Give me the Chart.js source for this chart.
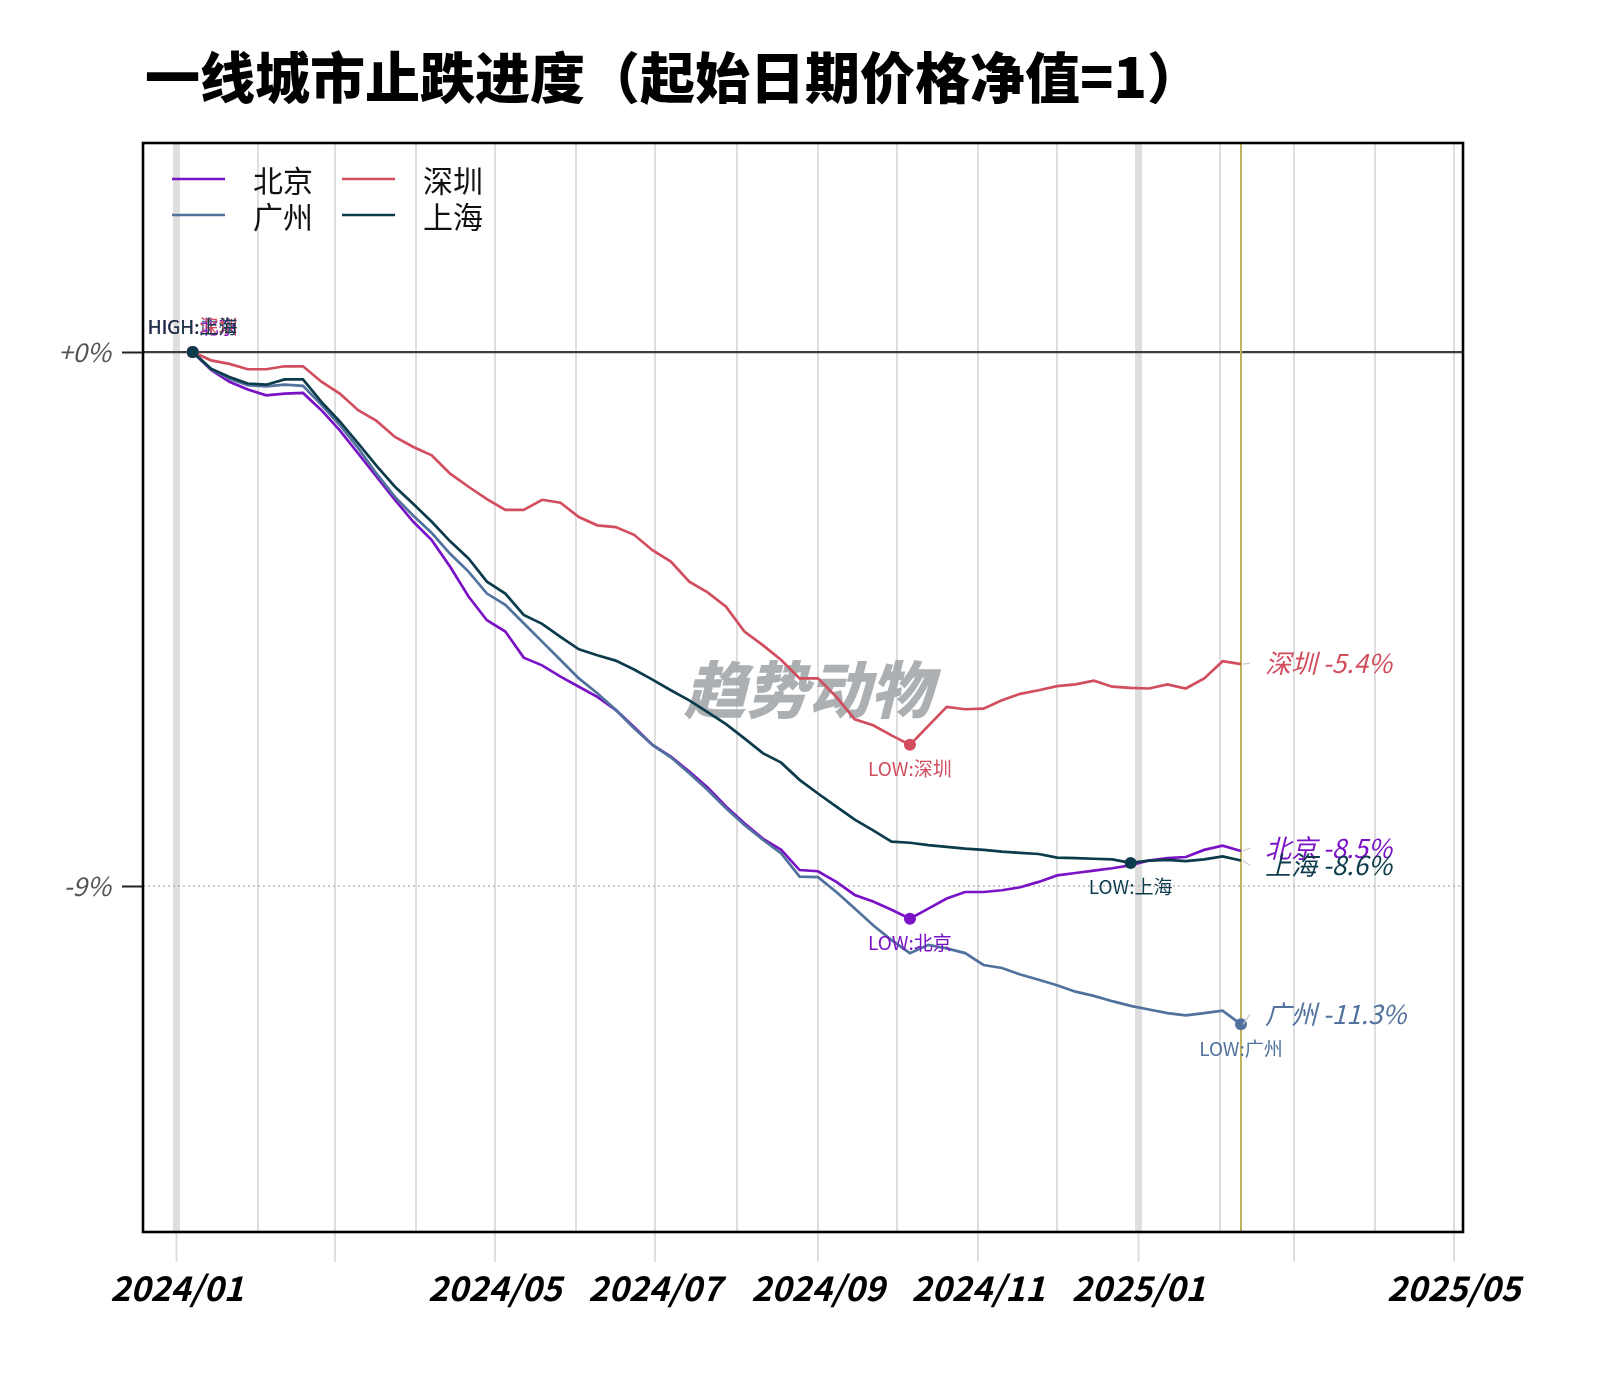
<!DOCTYPE html>
<html><head><meta charset="utf-8">
<script src="https://cdn.jsdelivr.net/npm/chart.js@4.4.1/dist/chart.umd.min.js"></script>
<style>
html,body{margin:0;padding:0;background:#fff;}
canvas{display:block;}
</style></head>
<body>
<canvas id="c" width="1607" height="1377"></canvas>
<script>
// ---------- data ----------
const dates = ['2024-01-07','2024-01-14','2024-01-21','2024-01-28','2024-02-04','2024-02-11','2024-02-18','2024-02-25',
 '2024-03-03','2024-03-10','2024-03-17','2024-03-24','2024-03-31','2024-04-07','2024-04-14','2024-04-21','2024-04-28',
 '2024-05-05','2024-05-12','2024-05-19','2024-05-26','2024-06-02','2024-06-09','2024-06-16','2024-06-23','2024-06-30',
 '2024-07-07','2024-07-14','2024-07-21','2024-07-28','2024-08-04','2024-08-11','2024-08-18','2024-08-25',
 '2024-09-01','2024-09-08','2024-09-15','2024-09-22','2024-09-29','2024-10-06','2024-10-13','2024-10-20','2024-10-27',
 '2024-11-03','2024-11-10','2024-11-17','2024-11-24','2024-12-01','2024-12-08','2024-12-15','2024-12-22','2024-12-29',
 '2025-01-05','2025-01-12','2025-01-19','2025-01-26','2025-02-02','2025-02-09'];
const cities = ['北京','广州','深圳','上海'];
const beijing = [0,-0.30,-0.50,-0.63,-0.73,-0.70,-0.69,-0.98,-1.32,-1.71,
 -2.10,-2.49,-2.86,-3.17,-3.62,-4.12,-4.52,-4.71,-5.15,-5.28,
 -5.47,-5.64,-5.81,-6.03,-6.32,-6.62,-6.82,-7.07,-7.34,-7.66,
 -7.94,-8.20,-8.39,-8.73,-8.75,-8.93,-9.15,-9.26,-9.40,-9.55,
 -9.38,-9.21,-9.10,-9.10,-9.07,-9.02,-8.93,-8.82,-8.78,-8.74,
 -8.70,-8.65,-8.57,-8.53,-8.51,-8.39,-8.32,-8.41];
const guangzhou = [0,-0.29,-0.45,-0.56,-0.58,-0.55,-0.57,-0.89,-1.23,-1.62,
 -2.05,-2.44,-2.76,-3.05,-3.40,-3.70,-4.07,-4.26,-4.57,-4.88,
 -5.19,-5.50,-5.75,-6.03,-6.34,-6.62,-6.83,-7.10,-7.38,-7.69,
 -7.97,-8.22,-8.45,-8.84,-8.85,-9.10,-9.38,-9.66,-9.91,-10.13,
 -9.99,-10.05,-10.13,-10.33,-10.38,-10.49,-10.58,-10.67,-10.78,-10.85,
 -10.94,-11.02,-11.08,-11.14,-11.18,-11.14,-11.10,-11.33];
const shenzhen = [0,-0.14,-0.20,-0.29,-0.29,-0.24,-0.24,-0.50,-0.70,-0.98,
 -1.16,-1.43,-1.60,-1.74,-2.05,-2.27,-2.48,-2.66,-2.66,-2.49,
 -2.54,-2.78,-2.92,-2.95,-3.08,-3.34,-3.53,-3.87,-4.05,-4.29,
 -4.71,-4.94,-5.19,-5.50,-5.50,-5.81,-6.19,-6.29,-6.46,-6.62,
 -6.30,-5.98,-6.02,-6.01,-5.87,-5.76,-5.70,-5.63,-5.60,-5.54,
 -5.64,-5.66,-5.67,-5.60,-5.67,-5.50,-5.21,-5.26];
const shanghai = [0,-0.28,-0.42,-0.53,-0.55,-0.46,-0.46,-0.84,-1.17,-1.54,
 -1.92,-2.27,-2.56,-2.86,-3.19,-3.48,-3.87,-4.07,-4.43,-4.58,
 -4.80,-5.01,-5.11,-5.20,-5.35,-5.52,-5.70,-5.87,-6.07,-6.27,
 -6.51,-6.76,-6.92,-7.21,-7.44,-7.66,-7.88,-8.06,-8.25,-8.27,
 -8.31,-8.34,-8.37,-8.39,-8.42,-8.44,-8.46,-8.52,-8.53,-8.54,
 -8.55,-8.61,-8.57,-8.56,-8.58,-8.55,-8.50,-8.57];
const endValueLabels = ['-8.5%','-11.3%','-5.4%','-8.6%'];
const xTickLabels = ['2024/01','2024/05','2024/07','2024/09','2024/11','2025/01','2025/05'];
const yTickValues = [0,-9];
const yTickLabels = ['+0%','-9%'];
const titleText = '一线城市止跌进度（起始日期价格净值=1）';
const watermarkText = '趋势动物';

// ---------- styles ----------
const seriesColors = ['#7A12C6','#52729E','#D24E5E','#0C3B4C'];
const endLabelOffsets = [-3,-10,-1,5];   // px, label repel
const CJK = '"Noto Sans CJK SC","Noto Sans",sans-serif';

const DAY0 = Date.UTC(2024,0,1);
function dayOf(s){const p=s.split('-').map(Number);return (Date.UTC(p[0],p[1]-1,p[2]||1)-DAY0)/864e5;}
function fmtDay(v){const d=new Date(DAY0+v*864e5);return d.getUTCFullYear()+'/'+String(d.getUTCMonth()+1).padStart(2,'0');}
const monthTicks=[];
for(let y=2024;y<=2025;y++){for(let m=1;m<=12;m++){if(y===2025&&m>5)break;monthTicks.push(dayOf(y+'-'+String(m).padStart(2,'0')+'-01'));}}
const seriesValues=[beijing,guangzhou,shenzhen,shanghai];
const xs = dates.map(dayOf);
function minIndex(arr){let k=0;arr.forEach((v,i)=>{if(v<arr[k])k=i;});return k;}

const datasets = cities.map((name,i)=>{
  const vals=seriesValues[i]; const mi=minIndex(vals);
  return {
    label:name,
    order:cities.length-1-i,
    data: vals.map((v,j)=>({x:xs[j],y:v})),
    borderColor:seriesColors[i],
    backgroundColor:seriesColors[i],
    borderWidth:2.7,
    tension:0,
    pointRadius:ctx=>(ctx.dataIndex===0||ctx.dataIndex===mi)?6:0,
    pointBorderWidth:0,
    pointBackgroundColor:seriesColors[i],
    _minIdx:mi
  };
});

function line(c,x1,y1,x2,y2){c.beginPath();c.moveTo(x1,y1);c.lineTo(x2,y2);c.stroke();}

const deco = {
  id:'deco',
  beforeDraw(chart){
    const c=chart.ctx; c.save();
    c.fillStyle='#fff'; c.fillRect(0,0,chart.width,chart.height);
    c.font='900 55px '+CJK; c.fillStyle='#000'; c.textAlign='left'; c.textBaseline='middle';
    c.fillText(titleText,145,77);
    c.restore();
  },
  beforeDatasetsDraw(chart){
    const c=chart.ctx,a=chart.chartArea,xsS=chart.scales.x,ysS=chart.scales.y;
    c.save();
    c.font='italic 900 62px '+CJK; c.fillStyle='rgba(160,165,168,0.88)'; c.textAlign='center'; c.textBaseline='middle';
    c.fillText(watermarkText,808,689);
    const y0=ysS.getPixelForValue(yTickValues[0]);
    c.strokeStyle='#3c3c3c'; c.lineWidth=2.2; line(c,a.left,y0,a.right,y0);
    const y9=ysS.getPixelForValue(yTickValues[1]);
    c.setLineDash([2,3]); c.strokeStyle='#9a9a9a'; c.lineWidth=1; line(c,a.left,y9,a.right,y9);
    c.setLineDash([]);
    const xl=xsS.getPixelForValue(xs[xs.length-1]);
    c.strokeStyle='#BFB35C'; c.lineWidth=2; line(c,xl,a.top,xl,a.bottom);
    c.restore();
  },
  afterDatasetsDraw(chart){
    const c=chart.ctx,a=chart.chartArea;
    c.save();
    // end labels with leader lines
    chart.data.datasets.forEach((ds,i)=>{
      const meta=chart.getDatasetMeta(i); const pts=meta.data; const last=pts[pts.length-1];
      const ly=last.y+endLabelOffsets[i];
      c.strokeStyle='#c8c8c8'; c.lineWidth=1.2; line(c,last.x+2,last.y,last.x+9,ly);
      c.font='italic 400 26px '+CJK; c.fillStyle=seriesColors[i]; c.textAlign='left'; c.textBaseline='middle';
      c.fillText(ds.label+' '+endValueLabels[i],last.x+24,ly);
    });
    // LOW labels
    c.font='400 19px '+CJK; c.textAlign='center'; c.textBaseline='middle';
    chart.data.datasets.forEach((ds,i)=>{
      const p=chart.getDatasetMeta(i).data[ds._minIdx];
      c.fillStyle=seriesColors[i]; c.fillText('LOW:'+ds.label,p.x,p.y+24);
    });
    // HIGH labels (overlapping)
    chart.data.datasets.forEach((ds,i)=>{
      const p=chart.getDatasetMeta(i).data[0];
      c.fillStyle=seriesColors[i]; c.fillText('HIGH:'+ds.label,p.x,p.y-25);
    });
    // legend
    chart.data.datasets.forEach((ds,i)=>{
      const col=Math.floor(i/2),row=i%2;
      const lx=172+col*170, ly=179+row*36;
      c.strokeStyle=seriesColors[i]; c.lineWidth=2.4; line(c,lx,ly,lx+53,ly);
      c.font='400 30px '+CJK; c.fillStyle='#111'; c.textAlign='left'; c.textBaseline='middle';
      c.fillText(ds.label,lx+81,ly+2);
    });
    // frame
    c.strokeStyle='#000'; c.lineWidth=2.6; c.strokeRect(a.left,a.top,a.right-a.left,a.bottom-a.top);
    c.restore();
  }
};

new Chart(document.getElementById('c'),{
  type:'line',
  data:{datasets},
  plugins:[deco],
  options:{
    responsive:false, animation:false, devicePixelRatio:1,
    layout:{padding:{left:0,top:143,right:144,bottom:0}},
    plugins:{legend:{display:false},title:{display:false},tooltip:{enabled:false}},
    scales:{
      x:{
        type:'linear', min:-12.9, max:489.5,
        afterBuildTicks(s){s.ticks=monthTicks.map(v=>({value:v}));},
        afterFit(s){s.height=145;},
        border:{display:false},
        grid:{
          color:'#dedede',
          lineWidth:ctx=>{const v=ctx.tick&&ctx.tick.value;return (v!==undefined&&fmtDay(v).endsWith('/01'))?7:2;},
          tickColor:ctx=>{const v=ctx.tick&&ctx.tick.value;if(v===undefined)return 'rgba(0,0,0,0)';const m=+fmtDay(v).slice(5);return (m%2===1)?'#dedede':'rgba(0,0,0,0)';},
          tickLength:30, tickWidth:2
        },
        ticks:{
          autoSkip:false, maxRotation:0, minRotation:0, padding:6,
          color:'#000', font:{family:CJK,size:34,weight:'bold',style:'italic'},
          callback:v=>{const s=fmtDay(v);return xTickLabels.includes(s)?s:'';}
        }
      },
      y:{
        type:'linear', min:-14.83, max:3.523,
        afterBuildTicks(s){s.ticks=yTickValues.map(v=>({value:v}));},
        afterFit(s){s.width=143;},
        border:{display:false},
        grid:{drawOnChartArea:false, tickColor:'#222', tickLength:21, tickWidth:2},
        ticks:{
          padding:11, color:'#555', font:{family:CJK,size:26,style:'italic'},
          callback:(v)=>{const k=yTickValues.indexOf(v);return k>=0?yTickLabels[k]:'';}
        }
      }
    }
  }
});
</script>
</body></html>
